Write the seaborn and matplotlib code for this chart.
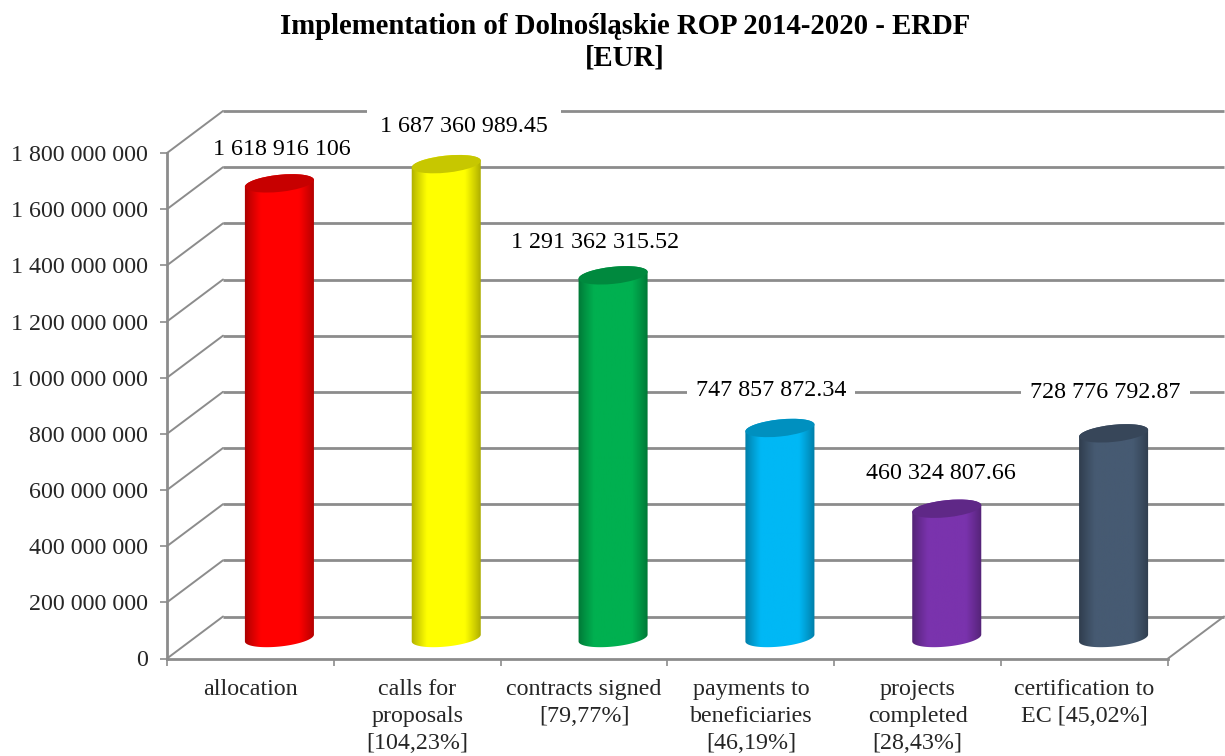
import numpy as np
import pandas as pd
import seaborn as sns
import matplotlib.pyplot as plt
from matplotlib.colors import to_rgb
from matplotlib.patches import Ellipse
from matplotlib.path import Path
from matplotlib.transforms import IdentityTransform

categories = ["allocation", "calls for\nproposals\n[104,23%]", "contracts signed\n[79,77%]",
              "payments to\nbeneficiaries\n[46,19%]", "projects\ncompleted\n[28,43%]",
              "certification to\nEC [45,02%]"]
values = [1618916106, 1687360989.45, 1291362315.52, 747857872.34, 460324807.66, 728776792.87]
value_labels = ["1 618 916 106", "1 687 360 989.45", "1 291 362 315.52",
                "747 857 872.34", "460 324 807.66", "728 776 792.87"]
colors = ["#ff0000", "#ffff00", "#00b050", "#00b8f5", "#7a33ad", "#465a72"]
y_ticks = [0, 200e6, 400e6, 600e6, 800e6, 1000e6, 1200e6, 1400e6, 1600e6, 1800e6]

# hand placed data labels, pixels from the top of each bar
label_dx = [2, 18, -18, -9, -6, -8]
label_dy = [34, 38, 33, 37, 35, 41]
label_pad = [0.12, 0.3, 0.12, 0.12, 0.12, 0.12]

W, H = 1225, 756
GREY = "#8c8c8c"
X0, X1, Y0, Y1 = 167, 1168, 658.5, 153   # front plane of the 3d box
DEPTH_X, DEPTH_Y = 56, 42                # front to back wall
BAR_DX, BAR_DY = 29, 20.5                # front to bar plane
A, B, TILT = 34.7, 8.5, np.deg2rad(6)    # cylinder ends
FS = 17.3

sns.set_theme(style="white")
plt.rcParams["font.family"] = ["Liberation Serif", "DejaVu Serif"]

fig = plt.figure(figsize=(W / 100, H / 100), dpi=100)
ax = fig.add_axes([X0 / W, (H - Y0) / H, (X1 - X0) / W, (Y0 - Y1) / H])
bar_ax = fig.add_axes([(X0 + BAR_DX) / W, (H - Y0 + BAR_DY) / H, (X1 - X0) / W, (Y0 - Y1) / H])

df = pd.DataFrame({"category": categories, "value": values})
sns.barplot(data=df, x="category", y="value", hue="category", palette=colors, legend=False,
            width=0.413, ax=bar_ax)
bar_ax.set_xlim(-0.5, 5.5)
bar_ax.set_ylim(0, 1.8e9)
bar_ax.axis("off")
bar_ax.patch.set_alpha(0)

# box
ax.set_xlim(-0.5, 5.5)
ax.set_ylim(0, 1.8e9)
dx = DEPTH_X * 6 / (X1 - X0)
dy = DEPTH_Y * 1.8e9 / (Y0 - Y1)
for v in y_ticks:
    ax.plot([-0.5 + dx, 5.5 + dx], [v + dy, v + dy], color=GREY, lw=2.0, clip_on=False, zorder=1,
            solid_capstyle="butt")
    ax.plot([-0.5, -0.5 + dx], [v, v + dy], color=GREY, lw=1.4, clip_on=False, zorder=1)
ax.plot([5.5, 5.5 + dx], [0, dy], color=GREY, lw=1.4, clip_on=False, zorder=1)

ax.set_yticks(y_ticks)
ax.set_yticklabels([f"{int(v):,}".replace(",", " ") for v in y_ticks])
ax.set_xticks(range(6))
ax.set_xticklabels(categories, linespacing=1.38)
ax.set_xticks(np.arange(-0.5, 6), minor=True)
ax.tick_params(axis="y", labelsize=FS, length=5, width=1.2, color=GREY, pad=8.5, left=True)
ax.tick_params(axis="x", which="major", labelsize=FS, length=0, pad=14.5)
ax.tick_params(axis="x", which="minor", length=5, width=1.2, color=GREY, bottom=True)
ax.set_xlabel("")
ax.set_ylabel("")
for side in ["top", "right"]:
    ax.spines[side].set_visible(False)
for side in ["left", "bottom"]:
    ax.spines[side].set_color(GREY)
    ax.spines[side].set_linewidth(2.0)


def ellipse_points(cx, cy, start, end):
    t = np.deg2rad(np.linspace(start, end, 60))
    x = cx + A * np.cos(t) * np.cos(TILT) - B * np.sin(t) * np.sin(TILT)
    y = cy + A * np.cos(t) * np.sin(TILT) + B * np.sin(t) * np.cos(TILT)
    return np.column_stack([x, y])


# cylinders, taken from the seaborn bars
fig.canvas.draw()
t = np.linspace(-1, 1, 200)
shade = 0.58 + 0.42 * np.clip((1 - np.abs(t)) / 0.5, 0, 1) ** 0.8
bars = list(bar_ax.patches)
for bar, col, text, lx, ly, pad in zip(bars, colors, value_labels, label_dx, label_dy, label_pad):
    bar.set_visible(False)
    left, w, h = bar.get_x(), bar.get_width(), bar.get_height()
    rgb = np.array(to_rgb(col))
    (cx, y_bot) = bar_ax.transData.transform((left + w / 2, 0))
    (_, y_top) = bar_ax.transData.transform((left + w / 2, h))

    body = np.vstack([ellipse_points(cx, y_bot, 180, 360), ellipse_points(cx, y_top, 0, 180)])
    im = bar_ax.imshow((shade[None, :, None] * rgb[None, None, :]), aspect="auto", zorder=3,
                       extent=[left - 0.02, left + w + 0.02, -1e8, h + 1e8])
    im.set_clip_box(fig.bbox)
    im.set_clip_path(Path(body, closed=False), IdentityTransform())

    cap = Ellipse((cx, y_top), 2 * A, 2 * B, angle=np.rad2deg(TILT), transform=IdentityTransform(),
                  facecolor=rgb * 0.78, edgecolor="none", zorder=4, clip_on=False)
    bar_ax.add_artist(cap)

    # nbsp either side gives the white gap in the gridlines without a tall box
    bar_ax.annotate("\u00a0" + text + "\u00a0", (left + w / 2, h), xytext=(lx, ly), textcoords="offset pixels",
                    ha="center", va="center", fontsize=FS, color="black", zorder=5,
                    annotation_clip=False,
                    bbox=dict(boxstyle=f"square,pad={pad}", fc="white", ec="none"))
bar_ax.set_xlim(-0.5, 5.5)
bar_ax.set_ylim(0, 1.8e9)

fig.text(625 / W, 1 - 26 / H, "Implementation of Dolnośląskie ROP 2014-2020 - ERDF", ha="center", va="center",
         fontsize=20.7, fontweight="bold", color="black")
fig.text(625 / W, 1 - 58 / H, "[EUR]", ha="center", va="center", fontsize=20.7, fontweight="bold", color="black")

fig.savefig("out.png", dpi=100)
